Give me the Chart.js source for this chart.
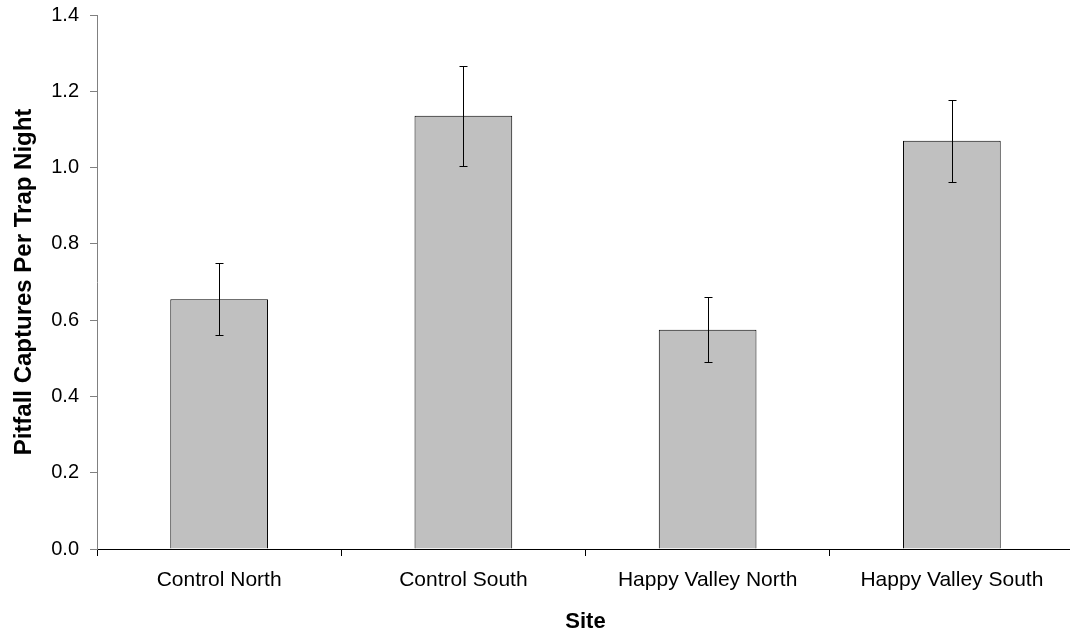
<!DOCTYPE html>
<html>
<head>
<meta charset="utf-8">
<title>Pitfall Captures Per Trap Night by Site</title>
<script src="https://cdn.jsdelivr.net/npm/chart.js@4/dist/chart.umd.min.js"></script>
<style>
  html, body { margin: 0; padding: 0; background: #fff; overflow: hidden; }
  #wrap { position: absolute; left: 0; top: 0; width: 1074px; height: 633px; }
</style>
</head>
<body>
<div id="wrap"><canvas id="chart"></canvas></div>
<script>
// Sites sampled
const sites = ['Control North', 'Control South', 'Happy Valley North', 'Happy Valley South'];
// Mean pitfall captures per trap night
const captures = [0.655, 1.136, 0.575, 1.070];
// Standard error of each mean
const stdErrors = [0.095, 0.131, 0.086, 0.108];
// Y axis tick values
const yTicks = [0.0, 0.2, 0.4, 0.6, 0.8, 1.0, 1.2, 1.4];

const FONT = '"Liberation Sans", Arial, Helvetica, sans-serif';

// Draws vertical error bars with caps on top of every bar
const errorBars = {
  id: 'errorBars',
  afterDatasetsDraw(chart) {
    const { ctx, scales: { y } } = chart;
    const meta = chart.getDatasetMeta(0);
    ctx.save();
    ctx.strokeStyle = '#000';
    ctx.lineWidth = 1;
    meta.data.forEach((bar, i) => {
      const v = captures[i], e = stdErrors[i];
      const x = Math.round(bar.x) + 0.5;
      const yt = Math.round(y.getPixelForValue(v + e)) + 0.5;
      const yb = Math.round(y.getPixelForValue(v - e)) + 0.5;
      const cap = 4;
      ctx.beginPath();
      ctx.moveTo(x, yt); ctx.lineTo(x, yb);
      ctx.moveTo(x - cap, yt); ctx.lineTo(x + cap, yt);
      ctx.moveTo(x - cap, yb); ctx.lineTo(x + cap, yb);
      ctx.stroke();
    });
    ctx.restore();
  }
};

new Chart(document.getElementById('chart'), {
  type: 'bar',
  data: {
    labels: sites,
    datasets: [{
      data: captures,
      backgroundColor: '#C0C0C0',
      borderColor: '#000',
      borderWidth: 1,
      categoryPercentage: 1.0,
      barPercentage: 0.4
    }]
  },
  options: {
    responsive: true,
    maintainAspectRatio: false,
    animation: false,
    layout: { padding: { top: 15, right: 0, bottom: 0, left: 0 } },
    plugins: {
      legend: { display: false },
      tooltip: { enabled: false }
    },
    scales: {
      x: {
        offset: true,
        grid: {
          offset: true,
          drawOnChartArea: false,
          drawTicks: true,
          tickLength: 7,
          color: '#000'
        },
        border: { display: true, color: '#000', width: 1 },
        ticks: {
          color: '#000',
          padding: 12,
          maxRotation: 0,
          font: { family: FONT, size: 21 }
        },
        title: {
          display: true,
          text: 'Site',
          color: '#000',
          padding: { top: 0, bottom: 0 },
          font: { family: FONT, size: 22, weight: 'bold', lineHeight: 1 }
        },
        afterFit(scale) { scale.height = 84; scale.paddingLeft = 0; scale.paddingRight = 0; }
      },
      y: {
        min: 0,
        max: 1.4,
        afterBuildTicks(scale) { scale.ticks = yTicks.map(v => ({ value: v })); },
        grid: {
          drawOnChartArea: false,
          drawTicks: true,
          tickLength: 7,
          color: '#808080'
        },
        border: { display: true, color: '#808080', width: 1 },
        ticks: {
          color: '#000',
          padding: 11,
          font: { family: FONT, size: 20 },
          callback: (v) => Number(v).toFixed(1)
        },
        title: {
          display: true,
          text: 'Pitfall Captures Per Trap Night',
          color: '#000',
          padding: { top: 12, bottom: 0 },
          font: { family: FONT, size: 24, weight: 'bold', lineHeight: 1 }
        },
        afterFit(scale) { scale.width = 97; scale.paddingTop = 0; scale.paddingBottom = 0; }
      }
    }
  },
  plugins: [errorBars]
});
</script>
</body>
</html>
